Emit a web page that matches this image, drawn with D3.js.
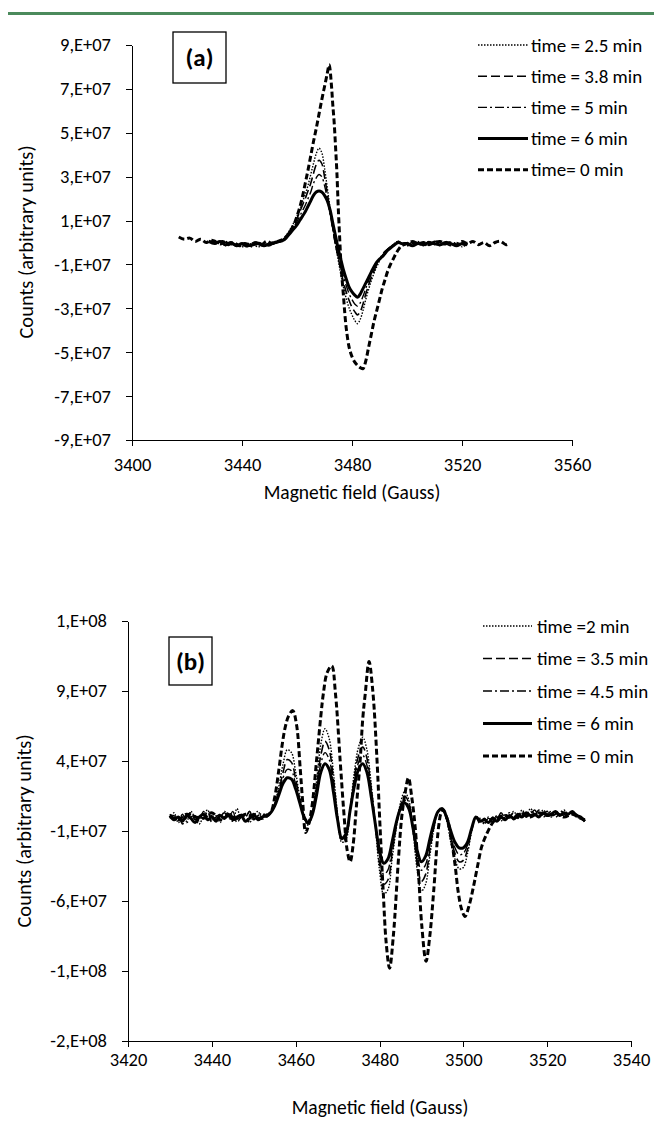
<!DOCTYPE html>
<html>
<head>
<meta charset="utf-8">
<script src="https://cdn.jsdelivr.net/npm/d3@7"></script>
<style>
  body { margin: 0; background: #fff; }
  svg text { font-family: Carlito, Calibri, Lato, "Open Sans", sans-serif; fill: #000; }
  .axis path, .axis line { stroke: #000; stroke-width: 1; shape-rendering: crispEdges; }
</style>
</head>
<body>
<div id="chart"></div>
<script>
/*******  Data (counts in millions) ******/
// Panel (a) - single line spectrum
const fieldA0 = [3417, 3419, 3421, 3423, 3425, 3427, 3429, 3431, 3433, 3435, 3437, 3439, 3441, 3443, 3445, 3447, 3449, 3451, 3453,
  3455, 3457, 3458, 3459, 3460, 3461, 3462, 3463, 3464, 3465, 3466, 3467, 3468, 3469, 3470, 3471,
  3471.7, 3472.5, 3473, 3473.5, 3474, 3474.5, 3475, 3475.6, 3476, 3477, 3477.5, 3478,
  3479, 3480, 3481, 3482, 3483, 3484, 3485, 3486, 3487, 3488, 3489, 3490, 3491, 3492, 3493, 3494, 3495, 3496, 3497, 3498, 3500,
  3502, 3504, 3506, 3508, 3510, 3512, 3514, 3516, 3518, 3520, 3522, 3524, 3526, 3528, 3530, 3532, 3534, 3536, 3537];
const countsA0 = [2.5, 1.5, 2, 0.5, 1.5, 0, 1, -0.5, 0.5, -1, 0, -1.5, -0.5, -1, 0, -1, 0.5, -0.5, 0.5,
  1.5, 4, 6, 8.5, 12, 16, 21, 27, 33, 39.5, 46, 52, 58.5, 65, 71, 77,
  81, 72, 63, 55, 44, 32, 16, 0, -10, -26, -34, -40,
  -48, -52, -54.5, -56, -57, -57.5, -54, -48, -42, -36, -31, -26, -21, -17, -13, -10, -7.5, -5, -3, -1.5, -0.5,
  0.5, -0.5, 0, -1, 0, 0.5, -0.5, 0, -1, 0.5, -0.5, 0.5, -1, 0, -1.5, 0, 0.5, -1, -0.5];

const fieldA = [3428, 3430, 3432, 3434, 3436, 3438, 3440, 3442, 3444, 3446, 3448, 3450, 3452, 3454,
  3455, 3456, 3457, 3458, 3459, 3460, 3461, 3462, 3463, 3464, 3465, 3466, 3467, 3468, 3469, 3470, 3471, 3472, 3473, 3474, 3475, 3476,
  3477, 3478, 3479, 3480, 3481, 3482, 3483, 3484, 3485, 3486, 3487, 3488, 3489, 3490, 3491, 3492, 3493, 3494, 3495, 3496, 3497, 3498,
  3500, 3502, 3504, 3506, 3508, 3510, 3512, 3514, 3516, 3518, 3520, 3522];
const countsA25 = [1, 0, -0.5, 0.5, -1, -0.5, -2, -0.5, -1, -2, -0.5, -1, 0.5, 1,
  1.5, 3, 5, 7, 9.5, 12, 15, 18.5, 22, 26, 31, 36, 40.5, 43, 41, 34, 25, 16, 7, -1, -8, -15,
  -21, -26, -30, -33, -35.5, -37, -35, -31, -26, -21.5, -17.5, -14, -11, -8.5, -6.5, -5, -3.5, -2, -1, 0, 0.5, -0.5,
  0, -1, 0.5, -1.5, -0.5, 0, -1.5, 0.5, -1, 0, -2, -0.5];
const countsA38 = [0, 1, -1, 0, -0.5, -1.5, 0, -1, -2, 0, -1, -1.5, 0, 0.5,
  1.5, 2.5, 4.5, 6.5, 8.5, 11, 14, 17, 20, 23.5, 27, 31.5, 35.5, 37.5, 36, 30, 22.5, 14.5, 6.5, -1, -7, -13,
  -18.5, -23, -26.5, -29.5, -31.5, -33, -31.5, -28, -23.5, -19.5, -16, -13, -10, -8, -6, -4.5, -3, -2, -1, 0, 0.5, -0.5,
  -1, 0, -1.5, 0, -1, 0.5, -0.5, -1, 0, -1.5, -0.5, 0];
const countsA5 = [0.5, -0.5, 0.5, -1.5, 0, -1, -1, -2, 0, -1, -1.5, 0, -0.5, 1,
  1, 2.5, 4, 6, 7.5, 9.5, 12, 14.5, 17, 20, 23, 27, 29.5, 31, 30, 26, 20, 13, 6, -1, -6.5, -11.5,
  -16, -20, -23.5, -26, -28, -29, -27.5, -24.5, -21, -17.5, -14.5, -12, -9.5, -7.5, -5.5, -4, -3, -2, -1, 0, 0.5, -0.5,
  -1.5, -0.5, 0, -1, 0.5, -1, 0, -0.5, -1.5, 0, -1, -1.5];
const countsA6 = [0.5, -0.5, 0.5, -1, 0, -1.5, -0.5, -1.5, -1, -0.5, -1.5, -0.5, 0, 0.5,
  1, 2, 3.5, 5, 6.5, 8, 10, 12, 14, 16.5, 19, 21.5, 23, 23.5, 23, 21.5, 19, 15, 9, 3, -3, -8,
  -13, -17, -20.5, -22.5, -24, -25, -23.5, -21, -18.5, -16, -13.5, -11, -9, -7.5, -6.5, -5, -3.5, -2.5, -1.5, -0.5, 0, -0.5,
  -0.5, -1.5, -0.5, -1, 0, -0.5, -1, 0, -0.5, -1.5, -0.5, -1];

// Panel (b) - five line spectrum
const fieldB0 = [3430, 3432, 3434, 3436, 3438, 3440, 3442, 3444, 3446, 3448, 3450, 3452,
  3454, 3455, 3456, 3456.8, 3457.5, 3458.3, 3459.3, 3460.2, 3461.1, 3461.7, 3462.4, 3463.2, 3464, 3465, 3466, 3466.6,
  3467.5, 3468.6, 3469.5, 3470.6, 3471.5, 3472.3, 3473, 3473.7, 3474.5, 3475.4, 3476, 3476.6, 3477.5, 3478.4, 3479.4,
  3480.1, 3480.9, 3481.6, 3482.4, 3483.3, 3484.5, 3485.3, 3486.1, 3486.9, 3487.7, 3488.5, 3489.3, 3490.1, 3491.1,
  3492, 3492.9, 3494.1, 3494.7, 3495.2, 3496.2, 3497.3, 3498.1, 3498.8, 3499.6, 3500.4, 3501.4, 3502.4, 3503.4,
  3504.4, 3505.6, 3506.8, 3508,
  3510, 3512, 3514, 3516, 3518, 3520, 3522, 3524, 3526, 3528, 3529];
const countsB0 = [1, -2, 2, 0, -1, 3, -2, 1, -1, 2, 0, -1,
  3, 14, 34, 52, 64, 72, 76, 66, 34, 10, -11, -4, 10, 41, 72, 88,
  103, 108, 88, 41, 3, -24, -32, -20, 8, 41, 70, 88, 111, 90, 41,
  -5, -54, -90, -108, -85, -31, 0, 17, 28, 14, -7, -40, -78, -103,
  -85, -54, -7, 3, 5, -2, -19, -36, -54, -66, -71, -63, -50, -35,
  -21, -12, -5, -1,
  1, -1, 2, 0, 3, 1, 3, 0, 2, -1, -2];

const fieldB = [3430, 3431, 3432, 3433, 3434, 3435, 3436, 3437, 3438, 3439,
  3440, 3441, 3442, 3443, 3444, 3445, 3446, 3447, 3448, 3449,
  3450, 3451, 3452, 3453, 3454, 3455, 3456, 3457, 3458, 3459,
  3460, 3461, 3462, 3463, 3464, 3465, 3466, 3467, 3468, 3469,
  3470, 3471, 3472, 3473, 3474, 3475, 3476, 3477, 3478, 3479,
  3480, 3481, 3482, 3483, 3484, 3485, 3486, 3487, 3488, 3489,
  3490, 3491, 3492, 3493, 3494, 3495, 3496, 3497, 3498, 3499,
  3500, 3501, 3502, 3503, 3504, 3505, 3506, 3507, 3508, 3509,
  3510, 3511, 3512, 3513, 3514, 3515, 3516, 3517, 3518, 3519,
  3520, 3521, 3522, 3523, 3524, 3525, 3526, 3527, 3528, 3529];
const countsB2 = [-1, 3, -4, 0, -3, 4, -1, -5, 1, 5, -2, 1, -4, 4, 0, -3, 6, -1, 2, -4, 1, 4, -1, 2,
  3, 10, 22, 38, 48, 46, 32, 14, 0, -6, 4, 26, 52, 63, 56, 32, 2, -18, -16, 6, 32, 50, 57, 48, 24, -6,
  -38, -55, -52, -30, -8, 10, 18, 12, -10, -38, -53, -48, -28, -8, 4, 6, -2, -18, -30, -37, -36, -26, -10, 0,
  -1, -5, 0, -4, 1, -3, 2, -1, 4, 0, 5, 1, 6, 2, 0, 5, 2, 0, 4, 1, 5, 2, 3, 0, -1, -2];
const countsB35 = [2, -1, 1, -5, 0, 3, -2, 1, -1, 4, -4, 0, 2, -1, 4, 0, -3, 2, 0, 4, -2, 1, 2, 0,
  3, 9, 19, 32, 41, 39, 27, 12, 0, -5, 3, 22, 44, 54, 48, 27, 1, -17, -14, 5, 28, 44, 50, 42, 21, -5,
  -33, -48, -45, -26, -7, 8, 15, 10, -9, -33, -46, -41, -24, -7, 4, 6, -1, -15, -26, -32, -31, -23, -9, 0,
  -5, -1, -4, 0, -2, 3, -1, 0, 3, -1, 4, 0, 2, 5, 1, 2, 4, 1, 2, 5, 2, 1, 3, 2, -1, -3];
const countsB45 = [0, 1, -3, 2, -4, 0, 1, -3, 4, 0, 1, -3, 0, 3, -1, 4, -4, 0, 1, 3, -1, 0, 3, 1,
  3, 8, 17, 28, 34, 33, 23, 11, 0, -5, 2, 19, 38, 46, 41, 23, 0, -16, -13, 5, 25, 39, 44, 37, 18, -5,
  -28, -41, -38, -22, -5, 7, 12, 8, -8, -28, -38, -34, -20, -6, 4, 6, -1, -12, -22, -27, -26, -20, -8, 0,
  -2, -4, -1, -3, 1, -1, 0, 3, -2, 1, 3, 0, 4, 1, 5, 0, 2, 4, 0, 2, 1, 4, 2, 1, 0, -2];
const countsB6 = [1, -2, 0, -3, 1, -1, -4, 0, 2, -2, 0, -3, 1, -1, 2, -2, 0, 1, -3, -1, 2, -2, 0, 1,
  3, 8, 16, 24, 28, 27, 20, 10, 0, -4, 2, 16, 32, 38, 34, 18, -2, -15, -12, 5, 22, 34, 38, 32, 15, -5,
  -24, -33, -30, -18, -4, 6, 10, 6, -8, -24, -32, -28, -16, -4, 4, 6, 0, -10, -18, -22, -22, -18, -8, 0,
  -3, -2, -4, -1, -3, 0, -2, 1, -1, 2, 0, 3, 1, 2, 0, 3, 1, 2, 4, 1, 3, 2, 4, 1, 0, -3];

// Legends and ticks
const legendA = ["time = 2.5 min", "time = 3.8 min", "time = 5 min", "time = 6 min", "time= 0 min"];
const legendB = ["time =2 min", "time = 3.5 min", "time = 4.5 min", "time = 6 min", "time = 0 min"];
const xTicksA = [3400, 3440, 3480, 3520, 3560];
const yTicksA = [-90, -70, -50, -30, -10, 10, 30, 50, 70, 90];
const xTicksB = [3420, 3440, 3460, 3480, 3500, 3520, 3540];
const yTicksB = [-160, -110, -60, -10, 40, 90, 140];

/*******  Styles ******/
// dotted, long dash, dash-dot, solid, thick dash
const lineStyles = [
  { dash: "1.5,1.5", width: 1.4 },
  { dash: "9,4", width: 1.6 },
  { dash: "9,3,2,3", width: 1.4 },
  { dash: null, width: 3 },
  { dash: "6,3", width: 3 }
];

const svg = d3.select("#chart")
  .append("svg")
  .attr("width", 654)
  .attr("height", 1122);

// green rule on top
svg.append("rect")
  .attr("x", 8).attr("y", 12)
  .attr("width", 646).attr("height", 3)
  .attr("fill", "#4b8a5c");

// Excel style "9,E+07"
function fmtE(v) {
  const s = (v * 1e6).toExponential(0);
  const parts = s.split("e");
  const e = parts[1];
  return `${parts[0]},E${e[0]}${e.slice(1).padStart(2, "0")}`;
}

function zip(fields, counts) {
  return fields.map((f, i) => ({ f: f, c: counts[i] }));
}

function drawPanel(p) {
  const x = d3.scaleLinear().domain(p.xDomain).range(p.xRange);
  const y = d3.scaleLinear().domain(p.yDomain).range(p.yRange);

  // x axis
  const xAxis = svg.append("g")
    .attr("class", "axis")
    .attr("transform", `translate(0, ${p.yRange[0]})`)
    .call(d3.axisBottom(x).tickValues(p.xTicks).tickSize(6).tickSizeOuter(0)
      .tickPadding(p.xPad).tickFormat(d3.format("d")));
  xAxis.selectAll("text").style("font-size", "18.5px");

  // y axis
  const yAxis = svg.append("g")
    .attr("class", "axis")
    .attr("transform", `translate(${p.xRange[0]}, 0)`)
    .call(d3.axisLeft(y).tickValues(p.yTicks).tickSize(6).tickSizeOuter(0).tickPadding(15).tickFormat(fmtE));
  yAxis.selectAll("text").style("font-size", "18.5px");

  // lines
  const line = d3.line()
    .x(d => x(d.f))
    .y(d => y(d.c))
    .curve(d3.curveCatmullRom.alpha(0.5));

  p.series.forEach((s, i) => {
    const st = lineStyles[i];
    svg.append("path")
      .datum(s)
      .attr("fill", "none")
      .attr("stroke", "#000")
      .attr("stroke-width", st.width)
      .attr("stroke-dasharray", st.dash)
      .attr("stroke-linejoin", "round")
      .attr("d", line);
  });

  // axis titles
  svg.append("text")
    .attr("transform", `translate(${p.yTitle[0]}, ${p.yTitle[1]}) rotate(-90)`)
    .attr("text-anchor", "middle")
    .style("font-size", "20.5px")
    .text("Counts (arbitrary units)");

  svg.append("text")
    .attr("x", p.xTitle[0])
    .attr("y", p.xTitle[1])
    .attr("text-anchor", "middle")
    .style("font-size", "19.5px")
    .text("Magnetic field (Gauss)");

  // panel tag box
  svg.append("rect")
    .attr("x", p.box[0]).attr("y", p.box[1])
    .attr("width", p.box[2]).attr("height", p.box[3])
    .attr("fill", "#fff")
    .attr("stroke", "#000")
    .attr("stroke-width", 1.3);
  svg.append("text")
    .attr("x", p.box[0] + p.box[2] / 2)
    .attr("y", p.box[1] + p.box[3] / 2)
    .attr("dy", "0.35em")
    .attr("text-anchor", "middle")
    .style("font-size", "25px")
    .style("font-weight", "bold")
    .text(p.tag);

  // legend
  const lg = svg.append("g");
  p.legend.forEach((label, i) => {
    const st = lineStyles[i];
    const ly = p.legendPos.y + i * p.legendPos.step;
    lg.append("line")
      .attr("x1", p.legendPos.x1).attr("x2", p.legendPos.x2)
      .attr("y1", ly).attr("y2", ly)
      .attr("stroke", "#000")
      .attr("stroke-width", st.width)
      .attr("stroke-dasharray", st.dash);
    lg.append("text")
      .attr("x", p.legendPos.tx)
      .attr("y", ly)
      .attr("dy", "0.35em")
      .style("font-size", "19px")
      .text(label);
  });
}

/*******  Panel (a) ******/
drawPanel({
  xDomain: [3400, 3560], xRange: [132, 572],
  yDomain: [-90, 90], yRange: [440, 45],
  xTicks: xTicksA, yTicks: yTicksA, xPad: 12,
  series: [zip(fieldA, countsA25), zip(fieldA, countsA38), zip(fieldA, countsA5), zip(fieldA, countsA6), zip(fieldA0, countsA0)],
  yTitle: [33, 242], xTitle: [352, 499],
  box: [173, 32, 53, 51], tag: "(a)",
  legend: legendA,
  legendPos: { x1: 478, x2: 528, tx: 531, y: 45, step: 31.2 }
});

/*******  Panel (b) ******/
drawPanel({
  xDomain: [3420, 3540], xRange: [128, 631],
  yDomain: [-160, 140], yRange: [1041, 621],
  xTicks: xTicksB, yTicks: yTicksB, xPad: 6,
  series: [zip(fieldB, countsB2), zip(fieldB, countsB35), zip(fieldB, countsB45), zip(fieldB, countsB6), zip(fieldB0, countsB0)],
  yTitle: [31, 831], xTitle: [380, 1114],
  box: [169, 637, 43, 48], tag: "(b)",
  legend: legendB,
  legendPos: { x1: 483, x2: 532, tx: 537, y: 626, step: 32.5 }
});
</script>
</body>
</html>
